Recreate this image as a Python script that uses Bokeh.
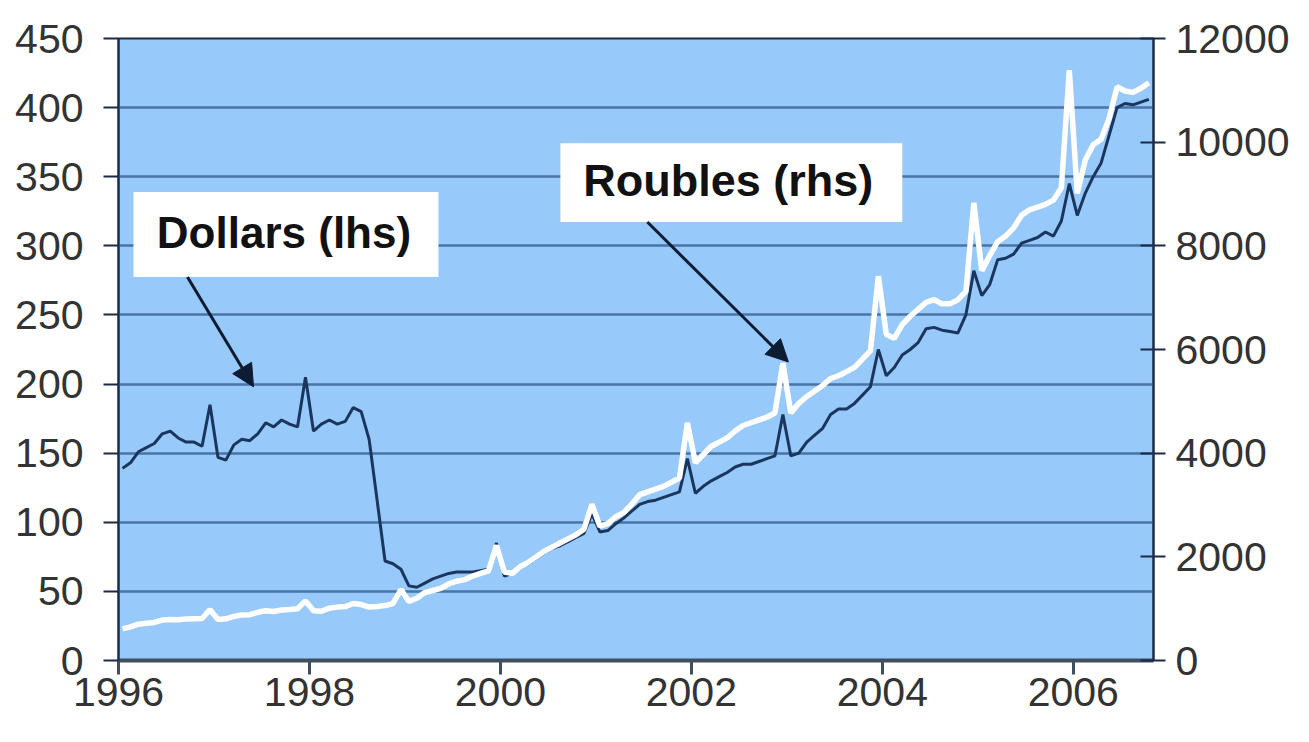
import pandas as pd
from bokeh.plotting import figure
from bokeh.models import (Range1d, LinearAxis, FixedTicker, BoxAnnotation, Label,
                          Arrow, NormalHead, ColumnDataSource)
from bokeh.embed import file_html
from bokeh.resources import INLINE

# ---- data (monthly, Jan 1996 - Oct 2006) ----
start_month = "1996-01-01"

dollars = [
    139, 143, 151, 154, 157, 164, 166, 161, 158, 158, 155, 185,   # 1996
    147, 145, 156, 160, 159, 164, 172, 169, 174, 171, 169, 205,   # 1997
    166, 171, 174, 171, 173, 183, 180, 160, 116, 72, 70, 66,      # 1998
    54, 53, 56, 59, 61, 63, 64, 64, 64, 65, 66, 85,               # 1999
    61, 63, 68, 70, 74, 78, 81, 83, 86, 89, 92, 106,              # 2000
    93, 94, 99, 103, 108, 113, 115, 116, 118, 120, 122, 146,      # 2001
    121, 126, 130, 133, 136, 140, 142, 142, 144, 146, 148, 178,   # 2002
    148, 150, 158, 163, 168, 178, 182, 182, 186, 192, 198, 225,   # 2003
    206, 212, 221, 225, 230, 240, 241, 239, 238, 237, 250, 282,   # 2004
    264, 272, 290, 291, 294, 302, 304, 306, 310, 307, 318, 345,   # 2005
    322, 338, 350, 360, 380, 400, 403, 402, 404, 406,             # 2006
]

roubles = [
    611, 650, 700, 720, 735, 780, 790, 785, 800, 805, 810, 980,          # 1996
    790, 805, 850, 880, 885, 930, 960, 945, 975, 985, 1000, 1150,        # 1997
    960, 950, 1010, 1030, 1040, 1100, 1080, 1030, 1040, 1060, 1100, 1370,  # 1998
    1140, 1200, 1310, 1350, 1390, 1480, 1530, 1560, 1630, 1680, 1730, 2220,  # 1999
    1707, 1680, 1814, 1894, 2000, 2107, 2187, 2267, 2347, 2427, 2534, 3014,  # 2000
    2590, 2640, 2774, 2854, 3014, 3200, 3254, 3307, 3360, 3440, 3520, 4587,  # 2001
    3814, 3974, 4134, 4214, 4294, 4427, 4534, 4587, 4641, 4694, 4774, 5734,  # 2002
    4774, 4961, 5094, 5201, 5307, 5441, 5494, 5574, 5654, 5814, 5974, 7414,  # 2003
    6294, 6214, 6481, 6641, 6774, 6908, 6961, 6881, 6881, 6961, 7121, 8828,  # 2004
    7521, 7814, 8081, 8188, 8348, 8588, 8694, 8748, 8801, 8881, 9121, 11388,  # 2005
    9014, 9655, 9948, 10055, 10455, 11068, 10988, 10961, 11041, 11148,       # 2006
]

year_ticks = [1996, 1998, 2000, 2002, 2004, 2006]
dollar_ticks = [0, 50, 100, 150, 200, 250, 300, 350, 400, 450]
rouble_ticks = [0, 2000, 4000, 6000, 8000, 10000, 12000]
label_dollars = "Dollars (lhs)"
label_roubles = "Roubles (rhs)"

dates = pd.date_range(start_month, periods=len(dollars), freq="MS")
t = list(dates.year + (dates.month - 0.5) / 12.0)

src = ColumnDataSource(dict(t=t, usd=dollars, rub=roubles))

FONT = "Liberation Sans"
TXT = "#333333"
TICK_FS = "41px"

p = figure(width=1293, height=726, output_backend="svg", toolbar_location=None,
           x_range=Range1d(1996, 2006.84), y_range=Range1d(0, 450),
           min_border_left=118, min_border_right=140, min_border_top=38,
           min_border_bottom=66)
p.extra_y_ranges = {"rub": Range1d(0, 12000)}

p.background_fill_color = "#97c9fa"
p.border_fill_color = "white"
p.outline_line_color = "#1c2a40"
p.outline_line_width = 2

# grid
p.xgrid.visible = False
p.ygrid.ticker = FixedTicker(ticks=dollar_ticks)
p.ygrid.grid_line_color = "#4a74a4"
p.ygrid.grid_line_width = 2.5

# x axis
xa = p.xaxis[0]
xa.ticker = FixedTicker(ticks=year_ticks)
xa.axis_line_color = "#3f4f60"
xa.axis_line_width = 4
xa.major_tick_line_color = "#3f4f60"
xa.major_tick_line_width = 3
xa.major_tick_in = 0
xa.major_tick_out = 14
xa.minor_tick_line_color = None
xa.major_label_standoff = 3
xa.major_label_text_font = FONT
xa.major_label_text_font_size = TICK_FS
xa.major_label_text_color = TXT

# left axis
ya = p.yaxis[0]
ya.ticker = FixedTicker(ticks=dollar_ticks)
ya.axis_line_color = "#1a2a48"
ya.axis_line_width = 2
ya.major_tick_line_color = "#1a2a48"
ya.major_tick_line_width = 2
ya.major_tick_in = 0
ya.major_tick_out = 15
ya.minor_tick_line_color = None
ya.major_label_standoff = 20
ya.major_label_text_font = FONT
ya.major_label_text_font_size = TICK_FS
ya.major_label_text_color = TXT

# right axis
ra = LinearAxis(y_range_name="rub", ticker=FixedTicker(ticks=rouble_ticks))
ra.axis_line_color = "#1a2a48"
ra.axis_line_width = 2
ra.major_tick_line_color = "#1a2a48"
ra.major_tick_line_width = 2
ra.major_tick_in = 13
ra.major_tick_out = 12
ra.minor_tick_line_color = None
ra.major_label_standoff = 10
ra.major_label_text_font = FONT
ra.major_label_text_font_size = TICK_FS
ra.major_label_text_color = TXT
p.add_layout(ra, "right")

# series
p.line("t", "usd", source=src, line_color="#1b365e", line_width=3)
p.line("t", "rub", source=src, y_range_name="rub", line_color="#ffffff", line_width=5.5)

# annotation boxes and labels
p.add_layout(BoxAnnotation(left=1996.157, right=1999.351, top=338.9, bottom=277.5,
                           fill_color="white", fill_alpha=1.0, line_color=None))
p.add_layout(BoxAnnotation(left=2000.628, right=2004.209, top=374.3, bottom=317.2,
                           fill_color="white", fill_alpha=1.0, line_color=None))
p.add_layout(Label(x=1997.733, y=310.0, text=label_dollars, text_align="center",
                   text_baseline="middle", text_font=FONT, text_font_style="bold",
                   text_font_size="44px", text_color="#111111"))
p.add_layout(Label(x=2002.387, y=347.0, text=label_roubles, text_align="center",
                   text_baseline="middle", text_font=FONT, text_font_style="bold",
                   text_font_size="45px", text_color="#111111"))

head_col = "#0d1b33"
p.add_layout(Arrow(end=NormalHead(size=22, fill_color=head_col, line_color=head_col),
                   x_start=1996.722, y_start=277.5, x_end=1997.414, y_end=198.0,
                   line_color=head_col, line_width=3))
p.add_layout(Arrow(end=NormalHead(size=22, fill_color=head_col, line_color=head_col),
                   x_start=2001.539, y_start=317.2, x_end=2003.016, y_end=216.0,
                   line_color=head_col, line_width=3))

open("out.html", "w").write(file_html(p, INLINE))
